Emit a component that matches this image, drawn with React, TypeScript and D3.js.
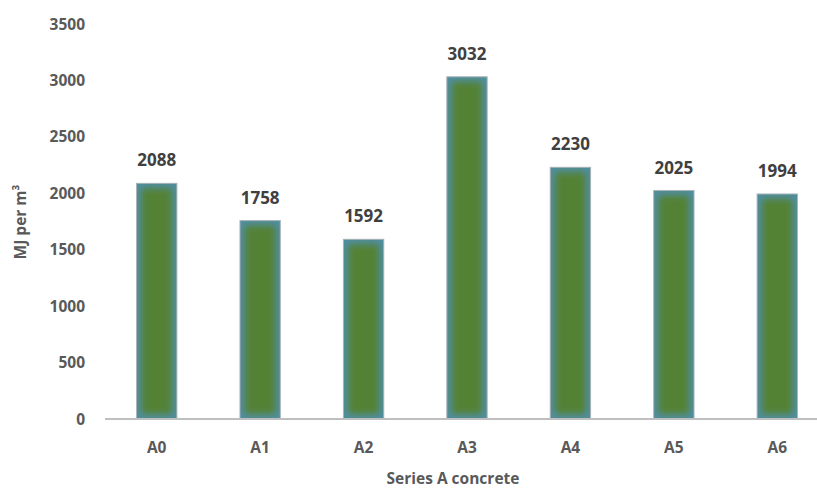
import React from "react";
import * as d3 from "d3";

const categories = ["A0", "A1", "A2", "A3", "A4", "A5", "A6"];
const values = [2088, 1758, 1592, 3032, 2230, 2025, 1994];
const yTicks = [0, 500, 1000, 1500, 2000, 2500, 3000, 3500];

const width = 817;
const height = 488;

const App = () => {
  // plot area (the axis runs past the right edge, as in the source)
  const x = d3.scaleBand().domain(categories).range([105, 829]).paddingInner(0.61).paddingOuter(0.305);
  const y = d3.scaleLinear().domain([0, 3500]).range([419, 24]);
  const font = "'Open Sans', 'Liberation Sans', sans-serif";

  return (
    <svg width={width} height={height} style={{ display: "block", position: "absolute", left: 0, top: 0 }}>
      <defs>
        <filter id="soft" x="-50%" y="-50%" width="200%" height="200%">
          <feGaussianBlur stdDeviation="3.5" />
        </filter>
        {categories.map((c, i) => (
          <clipPath id={`clip-${i}`} key={c}>
            <rect x={x(c)} y={y(values[i])} width={x.bandwidth()} height={y(0) - y(values[i])} />
          </clipPath>
        ))}
      </defs>
      <rect width={width} height={height} fill="#fff" />

      {/* y tick labels */}
      {yTicks.map((t) => (
        <text key={t} x={85} y={y(t)} dy="0.36em" textAnchor="end" fontFamily={font} fontWeight="bold"
          fontSize={15.5} fill="#595959">{t}</text>
      ))}

      {/* bars */}
      {categories.map((c, i) => {
        const bx = x(c)!;
        const by = y(values[i]);
        const bw = x.bandwidth();
        const bh = y(0) - by;
        return (
          <g key={c}>
            <g clipPath={`url(#clip-${i})`}>
              <rect x={bx} y={by} width={bw} height={bh} fill="#548235" />
              <rect x={bx} y={by} width={bw} height={bh} fill="none" stroke="#4f8fab" strokeWidth={9}
                filter="url(#soft)" />
            </g>
            <rect x={bx} y={by} width={bw} height={bh} fill="none" stroke="#a9b4b9" strokeWidth={1} />
            <text x={bx + bw / 2} y={by - 23} dy="0.36em" textAnchor="middle" fontFamily={font}
              fontWeight="bold" fontSize={17} fill="#404040">{values[i]}</text>
            <text x={bx + bw / 2} y={447} dy="0.36em" textAnchor="middle" fontFamily={font}
              fontWeight="bold" fontSize={15.5} fill="#595959">{c}</text>
          </g>
        );
      })}

      {/* x axis line */}
      <line x1={105} x2={829} y1={y(0)} y2={y(0)} stroke="#bfbfbf" strokeWidth={2} />

      {/* axis titles */}
      <text x={453} y={478} dy="0.36em" textAnchor="middle" fontFamily={font} fontWeight="bold"
        fontSize={15.5} fill="#595959">Series A concrete</text>
      <text transform="translate(20,222) rotate(-90)" dy="0.36em" textAnchor="middle" fontFamily={font}
        fontWeight="bold" fontSize={15.5} fill="#595959">MJ per m³</text>
    </svg>
  );
};

export default App;
